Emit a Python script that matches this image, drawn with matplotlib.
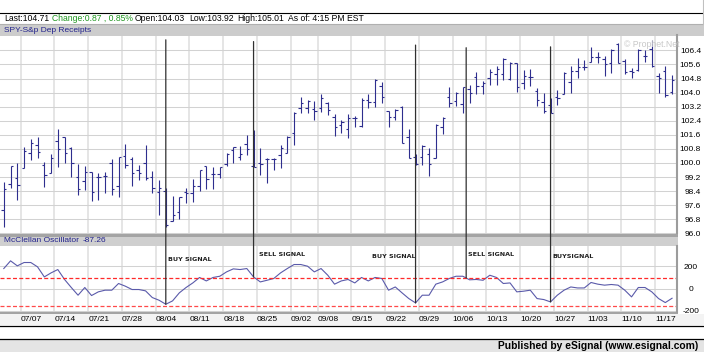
import numpy as np
import pandas as pd
import matplotlib
matplotlib.use('Agg')
import matplotlib.pyplot as plt
from matplotlib.patches import Rectangle, ConnectionPatch

plt.rcParams['font.family'] = ['Liberation Sans', 'DejaVu Sans']

# trading days shown: 07/01/2003 - 11/19/2003 (07/04 and 09/01 closed)
days = pd.bdate_range('2003-07-01', '2003-11-19')
days = days[~days.isin(pd.to_datetime(['2003-07-04', '2003-09-01']))]

# SPY daily OHLC
opens = [97.33, 98.80, 99.13, 99.70, 100.55, 101.02, 99.88, 99.41, 101.27, 101.46,
         100.83, 99.18, 98.99, 99.51, 99.18, 99.26, 100.02, 98.69, 100.42, 100.21,
         99.60, 100.02, 99.18, 98.37, 98.40, 96.70, 97.23, 98.37, 98.31, 98.69,
         99.83, 99.35, 99.35, 99.94, 100.74, 100.32, 101.08, 99.85, 99.98, 100.21,
         100.21, 100.45, 100.59, 101.69, 103.11, 103.11, 103.05, 103.11, 103.43, 102.59,
         102.16, 101.91, 102.54, 102.10, 103.58, 103.49, 104.38, 102.97, 102.59, 103.20,
         101.46, 100.36, 100.32, 100.51, 100.26, 102.06, 103.73, 103.54, 103.35, 104.20,
         104.90, 104.38, 104.81, 105.06, 105.06, 104.75, 105.66, 104.55, 104.91, 104.11,
         103.49, 103.30, 103.75, 103.92, 104.60, 105.20, 105.48, 105.76, 106.04, 105.90,
         105.66, 106.76, 105.82, 105.20, 105.30, 106.08, 106.50, 104.95, 105.25, 104.03]
highs = [98.94, 99.83, 99.98, 100.93, 101.34, 101.46, 100.07, 100.51, 101.91, 101.50,
         100.89, 99.94, 99.83, 99.51, 99.45, 99.51, 100.20, 100.32, 101.06, 100.36,
         99.88, 101.02, 99.56, 99.03, 98.60, 98.12, 98.08, 98.56, 99.07, 99.60,
         99.83, 99.75, 99.75, 100.59, 100.89, 100.96, 101.59, 101.87, 100.85, 100.26,
         100.26, 101.02, 101.53, 102.92, 103.77, 103.58, 103.54, 103.92, 103.49, 102.80,
         102.44, 102.78, 102.67, 103.67, 103.93, 104.75, 104.62, 102.97, 103.05, 103.24,
         101.91, 100.51, 101.02, 100.83, 102.22, 102.59, 104.30, 104.05, 104.34, 104.43,
         105.15, 104.68, 105.32, 105.51, 105.95, 105.76, 105.66, 105.30, 105.32, 104.28,
         104.00, 103.67, 104.15, 105.19, 105.50, 105.99, 105.85, 106.61, 106.33, 106.10,
         106.46, 106.80, 105.89, 105.40, 106.46, 106.40, 107.00, 105.10, 105.51, 105.01]
lows = [96.38, 98.56, 97.90, 99.70, 100.17, 100.26, 98.65, 99.41, 99.75, 99.98,
        99.22, 98.18, 98.46, 97.86, 97.90, 98.31, 98.20, 98.05, 99.70, 98.69,
        99.03, 99.03, 98.27, 97.04, 96.35, 96.70, 96.80, 97.74, 97.80, 98.43,
        98.50, 98.50, 99.13, 99.83, 100.02, 100.17, 100.45, 99.79, 99.32, 98.84,
        99.60, 99.70, 100.55, 101.02, 102.82, 102.86, 102.44, 102.92, 102.73, 101.55,
        101.69, 101.40, 102.03, 102.06, 103.10, 103.20, 103.43, 102.03, 102.44, 101.15,
        100.26, 99.88, 99.88, 99.26, 100.26, 101.65, 103.16, 103.24, 102.82, 103.43,
        103.92, 103.92, 104.43, 104.43, 104.72, 104.72, 104.05, 104.20, 104.40, 103.24,
        102.86, 102.82, 103.30, 103.92, 103.95, 104.85, 105.29, 105.76, 105.70, 104.94,
        105.13, 105.66, 105.06, 104.85, 105.23, 105.76, 105.45, 104.00, 103.73, 103.92]
closes = [98.50, 99.80, 98.75, 100.70, 101.15, 100.64, 99.32, 100.30, 100.79, 100.59,
          99.98, 98.54, 99.51, 98.37, 99.18, 99.26, 98.50, 100.32, 99.88, 99.45,
          99.41, 99.13, 98.56, 98.56, 96.45, 97.04, 98.08, 98.31, 98.69, 99.60,
          99.09, 99.35, 99.75, 100.49, 100.89, 100.49, 100.78, 99.79, 99.94, 100.21,
          100.21, 100.83, 101.50, 102.86, 103.43, 103.54, 102.97, 103.67, 103.01, 102.04,
          102.35, 102.54, 102.54, 103.60, 103.49, 104.72, 103.73, 102.59, 103.01, 101.15,
          100.26, 99.94, 100.96, 99.94, 102.16, 102.54, 103.43, 104.00, 104.30, 104.00,
          104.38, 104.57, 105.19, 105.32, 105.89, 105.66, 104.30, 104.95, 104.91, 103.58,
          102.97, 102.86, 103.70, 105.13, 105.25, 105.48, 105.48, 106.04, 106.04, 105.62,
          106.40, 105.70, 105.19, 105.15, 106.40, 106.10, 105.50, 104.85, 103.86, 104.71]

# McClellan Oscillator
osc = [179, 248, 203, 233, 233, 194, 104, 140, 170, 81,
       9, -60, 9, -63, -30, -15, -15, 45, 21, -9,
       -9, -21, -81, -105, -141, -111, -39, 9, 50, 99,
       68, 99, 110, 149, 176, 170, 179, 104, 59, 74,
       90, 140, 179, 215, 215, 200, 149, 179, 119, 39,
       68, 81, 50, 99, 68, 99, 90, -15, 14, -39,
       -90, -129, -60, -60, 39, 59, 90, 110, 110, 78,
       81, 74, 119, 99, 45, 50, -30, -24, -15, -90,
       -99, -120, -60, -15, 14, 5, 5, 54, 39, 30,
       36, 30, -15, -75, 9, 9, -30, -90, -126, -87.26]
osc_upper, osc_lower = 90, -160

change, change_pct = 0.87, 0.85

# hand drawn signal lines
signal_idx = [24, 37, 61, 68.5, 81]
signal_top = [107.0, 106.9, 106.7, 106.55, 106.6]
signal_text = ['BUY SIGNAL', 'SELL SIGNAL', 'BUY SIGNAL', 'SELL SIGNAL', 'BUYSIGNAL']

price_ticks = np.arange(96.0, 106.45, 0.8)
osc_ticks = [200, 0, -200]

x = np.arange(len(days))
wd = days.weekday.values
week_idx = [i for i in range(1, len(days)) if wd[i] < wd[i - 1]]
week_pos = [i - 0.5 for i in week_idx]
week_lbl = [days[i].strftime('%m/%d') for i in week_idx]

W, H = 704, 352
fig = plt.figure(figsize=(W / 100, H / 100), dpi=100)
bg = fig.add_axes([0, 0, 1, 1], zorder=-1)
bg.set_xlim(0, W)
bg.set_ylim(H, 0)
bg.axis('off')


def px_axes(x0, y0, x1, y1):
    return fig.add_axes([x0 / W, 1 - y1 / H, (x1 - x0) / W, (y1 - y0) / H])


# window chrome
bg.plot([0, W], [12.5, 12.5], color='black', lw=0.8)
bg.plot([0, W], [24.3, 24.3], color='#b0b0b0', lw=0.8)
bg.plot([702.5, 702.5], [0, 24.3], color='#c0c0c0', lw=0.8)
bg.add_patch(Rectangle((0, 24.8), W, 10.8, color='#cccccc', lw=0))
bg.add_patch(Rectangle((0, 233.5), 678, 3, color='#a4a4a4', lw=0))
bg.add_patch(Rectangle((0, 236.5), 678, 9.5, color='#cfcfcf', lw=0))
bg.add_patch(Rectangle((0, 311.5), 678, 2, color='#a4a4a4', lw=0))
bg.add_patch(Rectangle((0, 313.5), W, 11.7, color='#f3f3f3', lw=0))
bg.plot([0, W], [325.6, 325.6], color='black', lw=0.9)
bg.plot([0, W], [338.5, 338.5], color='black', lw=0.9)
bg.add_patch(Rectangle((0, 339), W, 13, color='#e4e4e4', lw=0))

hdr = dict(fontsize=6.2, va='center')
bg.text(4, 18.3, f'Last:{closes[-1]:.2f}', **hdr)
bg.text(51.7, 18.3, f'Change:{change:.2f} , {change_pct:.2f}%', color='#1f961f', **hdr)
bg.text(135, 18.3, f'Open:{opens[-1]:.2f}', **hdr)
bg.text(189, 18.3, f'Low:{lows[-1]:.2f}', **hdr)
bg.text(237, 18.3, f'High:{highs[-1]:.2f}', **hdr)
bg.text(288, 18.3, 'As of: 4:15 PM EST', **hdr)
bg.text(4, 30.2, 'SPY-S&p Dep Receipts', color='#22228c', fontsize=6.0, va='center')
bg.text(4, 240.9, 'McClellan Oscillator', color='#22228c', fontsize=6.0, va='center')
bg.text(82.7, 240.9, f'{osc[-1]:.2f}', color='#22228c', fontsize=6.0, va='center')
bg.text(698, 345.6, 'Published by eSignal (www.esignal.com)', ha='right', va='center',
        fontsize=7.4, fontweight='bold')

xlim = (-3.8 / 6.75, (677 - 3.8) / 6.75)

# price panel
ax = px_axes(0, 35.5, 677, 233.5)
bar_color = '#2e2e8e'
ax.vlines(x, lows, highs, color=bar_color, lw=0.8)
ax.hlines(opens, x - 0.36, x, color=bar_color, lw=0.8)
ax.hlines(closes, x, x + 0.36, color=bar_color, lw=0.8)
ax.set_xlim(*xlim)
ax.set_ylim(95.99, 107.245)
ax.set_xticks(week_pos)
ax.set_yticks(price_ticks, labels=[f'{v:.1f}' for v in price_ticks])
ax.yaxis.tick_right()
ax.tick_params(axis='x', length=0, labelbottom=False)
ax.tick_params(axis='y', length=0, pad=17.3, labelsize=6)
for lbl in ax.get_yticklabels():
    lbl.set_horizontalalignment('right')
ax.grid(axis='x', color='#dedede', lw=1.1)
ax.grid(axis='y', color='#d2d2d2', lw=0.75)
ax.set_axisbelow(True)
ax.text(0.921, 0.957, '\u00a9 Prophet.Net', transform=ax.transAxes, color='#c8c8c8',
        fontsize=6.3, va='center')

# oscillator panel
ax2 = px_axes(0, 246, 677, 311.5)
ax2.plot(x, osc, color='#5a5aaa', lw=0.8)
ax2.axhline(osc_upper, color='#ff2a2a', lw=0.9, ls=(0, (3.2, 1.8)))
ax2.axhline(osc_lower, color='#ff4a4a', lw=0.9, ls=(0, (3.2, 1.8)))
ax2.set_xlim(*xlim)
ax2.set_ylim(-206, 381)
ax2.set_xticks(week_pos, labels=week_lbl)
ax2.set_yticks(osc_ticks, labels=[str(v) for v in osc_ticks])
ax2.yaxis.tick_right()
ax2.tick_params(axis='x', length=0, pad=3.2, labelsize=6)
ax2.tick_params(axis='y', length=0, pad=10.1, labelsize=6)
for lbl in ax2.get_xticklabels():
    lbl.set_horizontalalignment('left')
for lbl in ax2.get_yticklabels():
    lbl.set_horizontalalignment('center')
ax2.grid(axis='x', color='#dedede', lw=1.1)
ax2.grid(axis='y', color='#d2d2d2', lw=0.75)
ax2.set_axisbelow(True)

for a in (ax, ax2):
    for s in ('top', 'left', 'bottom'):
        a.spines[s].set_visible(False)
    a.spines['right'].set_color('#9c9c9c')
    a.spines['right'].set_linewidth(1.5)

# signal lines from the price panel down to the oscillator
label_pos = [(24.3, 263), (37.8, 308), (54.5, 290), (68.8, 308), (81.2, 283)]
for i, top, txt, (tx, ty) in zip(signal_idx, signal_top, signal_text, label_pos):
    con = ConnectionPatch(xyA=(i, top), coordsA=ax.transData,
                          xyB=(i, np.interp(i, x, osc)), coordsB=ax2.transData,
                          color='#303030', lw=0.9)
    fig.add_artist(con)
    ax2.text(tx, ty, txt, fontsize=4.6, fontweight='bold', va='center', ha='left',
             family=['Liberation Sans Narrow', 'DejaVu Sans'], color='#202020')

fig.savefig('out.png', dpi=100)
